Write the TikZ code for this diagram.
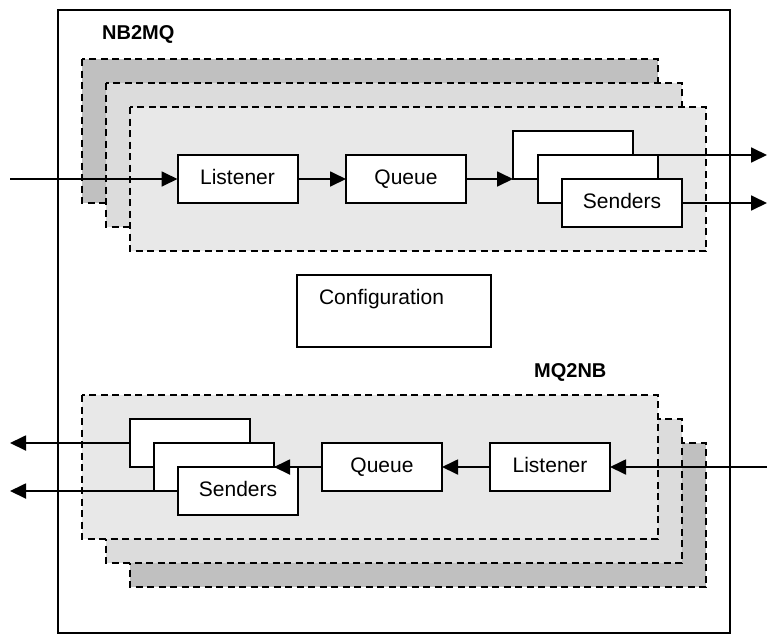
\documentclass[tikz,border=0pt]{standalone}
\usepackage{fontspec}
\setmainfont{Liberation Sans}
\usepackage{tikz}
\usetikzlibrary{arrows.meta,positioning,calc}
\definecolor{backgray}{HTML}{C0C0C0}
\definecolor{midgray}{HTML}{DCDCDC}
\definecolor{frontgray}{HTML}{E8E8E8}

\begin{document}
\begin{tikzpicture}[x=1pt, y=-1pt,
	box/.style={draw, line width=2pt, fill=white, minimum width=120pt, minimum height=48pt, inner sep=0pt, outer sep=0pt, text height=15pt, text depth=4pt, font=\fontsize{21}{25}\selectfont},
	panel/.style={line width=1.8pt, dash pattern=on 7pt off 4.5pt},
	flow/.style={line width=1.8pt, -{Triangle[length=16pt, width=15pt]}},
	title/.style={font=\bfseries\fontsize{20}{24}\selectfont, inner sep=0pt, anchor=base west}]
	\useasboundingbox (0,0) rectangle (767,635);
	\draw[line width=1.6pt] (58,10) rectangle (730,633);
	\node[title] (nbmq) at (102,39) {NB2MQ};
	\node[title] (mqnb) at (534,377) {MQ2NB};
	\draw[panel, fill=backgray] (82,59) rectangle (658,203);
	\draw[panel, fill=midgray] (106,83) rectangle (682,227);
	\draw[panel, fill=frontgray] (130,107) rectangle (706,251);
	\draw[panel, fill=backgray] (130,443) rectangle (706,587);
	\draw[panel, fill=midgray] (106,419) rectangle (682,563);
	\draw[panel, fill=frontgray] (82,395) rectangle (658,539);
	\node[box] (lis1) at (237.5,179) {Listener};
	\node[box] (que1) at (406,179) {Queue};
	\node[box] (snd1a) at (573,155) {};
	\node[box] (snd1b) at (598,179) {};
	\node[box] (snd1c) at (622,203) {Senders};
	\node[box, minimum width=194pt, minimum height=72pt] (config) at (394,311) {};
	\node[font=\fontsize{21}{25}\selectfont, inner sep=0pt] (cfgtext) at (381.5,299) {Configuration};
	\node[box] (lis2) at (550,467) {Listener};
	\node[box] (que2) at (382,467) {Queue};
	\node[box] (snd2a) at (190,443) {};
	\node[box] (snd2b) at (214,467) {};
	\node[box] (snd2c) at (238,491) {Senders};
	\coordinate (in1) at (10,179);
	\coordinate (outa) at (767,155);
	\coordinate (outb) at (767,203);
	\coordinate (in2) at (767,467);
	\coordinate (backa) at (10,443);
	\coordinate (backb) at (10,491);
	\draw[flow] (in1) -- (lis1);
	\draw[flow] (lis1) -- (que1);
	\draw[flow] (que1) -- (snd1a.south west);
	\draw[flow] (snd1b.north east) -- (outa);
	\draw[flow] (snd1c) -- (outb);
	\draw[flow] (in2) -- (lis2);
	\draw[flow] (lis2) -- (que2);
	\draw[flow] (que2) -- (snd2b);
	\draw[flow] (snd2a) -- (backa);
	\draw[flow] (snd2b.south west) -- (backb);
\end{tikzpicture}
\end{document}
